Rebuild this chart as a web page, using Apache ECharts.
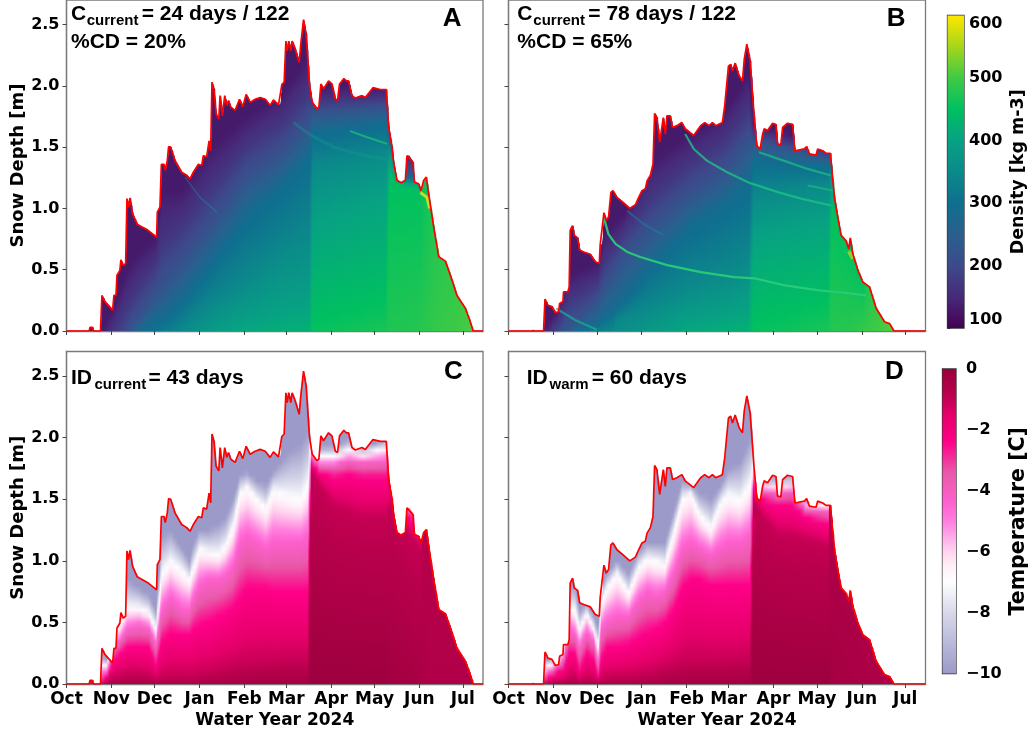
<!DOCTYPE html>
<html><head><meta charset="utf-8">
<style>html,body{margin:0;padding:0;background:#fff}#c{width:1030px;height:732px;filter:blur(0.45px)}</style>
<script src="https://cdn.jsdelivr.net/npm/echarts@6/dist/echarts.min.js"></script>
</head><body><div id="c"></div>
<script>
// ---------- tick labels ----------
const monthDays   = [0,31,61,92,123,152,183,213,244,274];
const monthLabels = ['Oct','Nov','Dec','Jan','Feb','Mar','Apr','May','Jun','Jul'];
const depthTicks  = [0,0.5,1,1.5,2,2.5];
const densTicks   = [100,200,300,400,500,600];
const tempTicks   = [-10,-8,-6,-4,-2,0];

// ---------- snow depth, current climate (panels A, C) ----------
const depthDaysCur = [0,15.7,16.2,18,18.5,23.5,24.5,26.5,31.9,32.8,34.2,34.9,36.9,37.6,39.2,40.9,41.8,42.9,43.9,45.7,48.9,51.9,55.9,62.3,62.8,64.6,65.6,67.4,68.3,69.7,70.6,72,75,79.6,83.1,85.4,87.7,91.2,93.5,94.6,96.9,98.6,99.7,100.6,102,103.4,105.3,106.2,107.8,109.4,110.8,112,113.6,116.6,119.6,121.9,124.2,127,130.4,133.9,137.4,140.8,143.1,146.6,147.7,148.9,150.5,151.7,152.6,153.7,155.1,156,158.1,160.9,162,163.9,165.7,168,169.9,173.1,174.5,175.9,177.7,181.2,183.5,185.9,187.4,188.8,191.8,193.4,195,197.4,199.7,204.3,206.6,211.9,217,221.1,222.8,225.1,226.2,228.5,231.3,234.3,235.4,236.6,239.6,240.5,243.5,245.1,247,248.8,250.4,253.9,257.4,262,266.6,270,275.8,278.8,281.2,288];
const depthCur     = [0,0,0.03,0.03,0,0,0.29,0.24,0.17,0.29,0.29,0.455,0.495,0.58,0.535,0.55,1.08,1.01,1.085,0.955,0.87,0.85,0.825,0.765,0.97,1.01,1.36,1.36,1.31,1.39,1.505,1.5,1.39,1.295,1.27,1.24,1.295,1.36,1.35,1.43,1.42,1.55,1.47,2.03,1.97,1.77,1.73,1.92,1.755,1.92,1.84,1.88,1.825,1.8,1.89,1.83,1.93,1.865,1.89,1.905,1.89,1.84,1.885,1.845,1.85,2.01,2.03,2.365,2.285,2.365,2.285,2.365,2.3,2.19,2.34,2.54,2.42,2.01,1.865,1.815,1.825,2.015,1.975,2.04,2.015,1.89,1.88,2.015,2.06,2.04,2.04,1.92,1.9,1.92,1.905,1.985,1.97,1.97,1.66,1.5,1.375,1.23,1.21,1.23,1.43,1.43,1.375,1.215,1.2,1.145,1.23,1.255,1.12,0.85,0.605,0.57,0.415,0.29,0.185,0.09,0,0];

// ---------- snow depth, warm climate (panels B, D) ----------
const depthDaysWarm = [0,16.3,16.8,17.3,24.2,25.2,27.2,30,32.3,34.6,35.3,37.6,38,41,41.9,42.6,44.2,45.4,47.7,49.1,51.9,56.5,59.9,62.7,63.3,64.5,65.9,67.5,69.1,70.7,72.1,74.9,79.5,83.7,87.6,89.9,92.2,94.5,95.7,98,99.8,100.9,102.5,104.4,106.9,108.3,109.4,111.7,113.3,116.3,119.7,122,127.9,132.7,135.5,138.5,140.8,143.1,147.7,149.3,151.9,153.4,154.7,156.5,159.3,161.6,162.8,164.6,166.9,169.7,171.5,173.8,175.5,176.6,178.9,182.4,184.7,185.8,188.1,189.3,192.7,196.2,197.8,204.3,205.9,207.8,212.4,213.5,217,219.3,222.3,225.1,227.4,229.7,233.2,235,236,237.8,241.3,244.7,249.3,253.9,259.7,263.2,266.2,288];
const depthWarm     = [0,0,0.013,0,0,0.26,0.21,0.2,0.15,0.157,0.225,0.24,0.32,0.32,0.36,0.82,0.86,0.78,0.76,0.66,0.645,0.626,0.565,0.55,0.7,0.71,0.965,0.9,0.93,1.13,1.145,1.09,1.045,1,1.03,1.09,1.145,1.16,1.225,1.27,1.36,1.775,1.74,1.54,1.74,1.605,1.755,1.755,1.66,1.675,1.7,1.65,1.595,1.675,1.7,1.675,1.7,1.675,1.7,1.835,2.16,2.175,2.12,2.185,2.08,2.04,2.215,2.34,2.2,1.74,1.51,1.485,1.605,1.65,1.635,1.695,1.685,1.525,1.52,1.66,1.695,1.685,1.47,1.485,1.505,1.445,1.435,1.485,1.47,1.45,1.45,1.09,0.93,0.78,0.735,0.67,0.76,0.63,0.495,0.4,0.36,0.185,0.076,0.06,0,0];

// ---------- panel A: heights [m] of density contours at read-off days ----------
const densA_days = [24,33,42,50,62,66,80,100,125,150,168,170,221,223,232,245,255,282];
const densA_base = [130,170,205,280,310,320,350,385,410,420,425,455,470,475,475,480,490,505];
const densA_450  = [0,0,0,0,0,0,0,0,0,0,0,0.06,0.25,1.2,1.18,1.15,3,3];
const densA_400  = [0,0,0,0,0,0,0,0,0.05,0.15,0.2,0.85,1.1,1.4,1.21,1.2,3,3];
const densA_350  = [0,0,0,0,0,0,0,0.2,0.4,0.65,0.75,1.34,1.45,1.5,1.23,1.21,3,3];
const densA_290  = [0,0,0,0,0.08,0.1,0.25,0.55,0.95,1.2,1.44,1.62,1.7,1.55,1.25,1.25,3,3];
const densA_220  = [0,0,0,0.1,0.3,0.35,0.55,0.85,1.25,1.45,1.7,1.78,1.82,1.6,1.3,1.3,3,3];
const densA_170  = [0,0,0.2,0.35,0.55,0.7,0.85,1.15,1.5,1.7,1.95,1.87,1.9,1.7,1.38,1.4,3,3];
const densA_130  = [0,0.2,0.5,0.65,0.75,1.15,1.15,1.5,1.75,1.95,2.25,2,1.98,1.8,1.43,1.45,3,3];

// ---------- panel B ----------
const densB_days = [24,33,42,50,62,66,80,100,125,150,166,169,221,223,235,245,266];
const densB_base = [130,190,240,300,330,340,360,385,410,420,425,452,470,480,480,490,510];
const densB_450  = [0,0,0,0,0,0,0,0,0,0,0,0.05,0.25,1,0.7,0.4,3];
const densB_400  = [0,0,0,0,0,0,0,0,0.05,0.12,0.18,0.75,0.9,1.15,0.75,0.45,3];
const densB_350  = [0,0,0,0,0,0,0.1,0.2,0.35,0.45,0.55,1.1,1.2,1.3,0.8,0.5,3];
const densB_290  = [0,0,0,0,0.05,0.1,0.25,0.55,0.85,1.05,1.2,1.4,1.35,1.4,0.85,0.55,3];
const densB_220  = [0,0,0.05,0.1,0.25,0.35,0.6,0.85,1.1,1.3,1.55,1.55,1.42,1.45,0.9,0.6,3];
const densB_170  = [0,0.05,0.25,0.3,0.4,0.55,0.8,1.1,1.35,1.55,1.8,1.62,1.46,1.5,0.95,0.65,3];
const densB_130  = [0,0.15,0.45,0.5,0.55,0.8,0.95,1.4,1.6,1.8,2.1,1.7,1.5,1.55,1,0.7,3];

// ---------- panel C: heights [m] of isotherms at read-off days ----------
const tempC_days = [24,28,33,37,42,50,57,62,66,72,80,85,88,92,98,105,110,115,120,125,132,138,143,148,155,162,167,169,175,185,195,205,221,223,235,245,250,282];
const tempC_base = [-1,-0.8,-0.5,-0.5,-0.5,-0.5,-0.5,-0.5,-0.5,-0.5,-0.5,-0.6,-0.5,-0.5,-0.5,-0.5,-0.4,-0.4,-0.4,-0.4,-0.4,-0.3,-0.3,-0.3,-0.3,-0.3,-0.3,-0.1,-0.1,-0.1,-0.1,-0.1,-0.1,-0.2,-0.3,-0.4,-0.6,-0.6];
const tempC_m1   = [0,0.03,0.05,0.05,0.08,0.08,0.06,0.03,0.05,0.06,0.06,0.06,0.06,0.07,0.08,0.1,0.12,0.13,0.15,0.15,0.16,0.17,0.17,0.18,0.18,0.18,0.18,1.75,1.62,1.45,1.4,1.35,1.35,1.45,1.25,1.1,3,3];
const tempC_m24  = [0.02,0.06,0.2,0.25,0.3,0.3,0.3,0.15,0.35,0.42,0.4,0.4,0.45,0.48,0.5,0.55,0.58,0.62,0.7,0.78,0.78,0.78,0.75,0.75,0.75,0.75,0.75,1.8,1.72,1.68,1.7,1.68,1.68,1.7,1.38,1.25,3,3];
const tempC_m43  = [0.08,0.1,0.3,0.35,0.45,0.48,0.45,0.32,0.6,0.7,0.6,0.6,0.7,0.8,0.85,0.85,0.88,0.95,1.15,1.2,1.15,1.1,1.15,1.15,1.15,1.15,1.2,1.85,1.78,1.78,1.82,1.8,1.82,2,1.42,1.4,3,3];
const tempC_m7   = [0.16,0.16,0.42,0.48,0.62,0.62,0.58,0.45,0.9,1,0.92,0.85,0.95,1.1,1.07,1.05,1.12,1.27,1.55,1.6,1.5,1.43,1.58,1.55,1.52,1.5,1.62,2,1.85,1.85,1.9,1.87,1.92,3,1.5,1.5,3,3];
const tempC_m10  = [0.22,0.2,0.5,0.52,0.85,0.78,0.72,0.6,1.2,1.25,1.1,1,1.15,1.25,1.25,1.3,1.35,1.5,1.7,1.72,1.65,1.62,1.72,1.8,1.9,1.95,2.05,2.1,1.92,1.93,1.98,1.92,1.98,3,1.6,1.6,3,3];

// ---------- panel D ----------
const tempD_days = [24,28,34,38,42,46,49,54,59,62,64,68,75,83,90,96,102,108,114,120,126,132,140,146,152,160,167,169,176,186,196,205,221,223,266];
const tempD_base = [-1,-0.8,-0.5,-0.5,-0.5,-0.5,-0.5,-0.5,-0.5,-0.5,-0.5,-0.5,-0.5,-0.5,-0.5,-0.5,-0.5,-0.4,-0.4,-0.4,-0.4,-0.3,-0.3,-0.3,-0.3,-0.3,-0.3,-0.1,-0.1,-0.1,-0.1,-0.1,-0.1,-0.3,-0.6];
const tempD_m1   = [0,0,0.02,0.02,0.04,0.05,0.02,0.05,0.03,0.01,0.04,0.05,0.06,0.06,0.07,0.08,0.1,0.12,0.14,0.16,0.17,0.17,0.17,0.17,0.18,0.18,0.18,1.5,1.36,1.22,1.2,1.18,1.12,3,3];
const tempD_m24  = [0.02,0.05,0.1,0.12,0.25,0.25,0.1,0.25,0.2,0.05,0.2,0.3,0.3,0.33,0.38,0.42,0.45,0.5,0.6,0.78,0.85,0.85,0.8,0.8,0.8,0.8,0.8,1.6,1.5,1.45,1.45,1.36,1.3,3,3];
const tempD_m43  = [0.06,0.1,0.15,0.2,0.45,0.4,0.3,0.42,0.35,0.15,0.45,0.5,0.55,0.55,0.68,0.75,0.72,0.75,0.9,1.1,1.15,1.1,1.05,1.1,1.15,1.15,1.2,1.68,1.58,1.55,1.58,1.43,1.41,3,3];
const tempD_m7   = [0.12,0.15,0.2,0.28,0.62,0.6,0.45,0.58,0.45,0.3,0.65,0.78,0.9,0.74,0.95,1.02,1,0.97,1.22,1.5,1.55,1.38,1.27,1.46,1.54,1.49,1.62,1.8,1.62,1.62,1.62,1.48,1.45,3,3];
const tempD_m10  = [0.2,0.2,0.25,0.32,0.8,0.8,0.6,0.65,0.55,0.45,0.8,0.9,1,0.9,1.08,1.15,1.15,1.15,1.4,1.65,1.62,1.55,1.5,1.6,1.75,1.8,2,2,1.66,1.67,1.68,1.5,1.47,3,3];

// ---------- dense layers visible as thin bands ----------
const layerA1_days=[82,92.3,104],        layerA1=[1.255,1.09,0.97];
const layerA2_days=[196,208,221.6],      layerA2=[1.63,1.58,1.526];
const layerA3_days=[157,168.5,184.7,203,221.6], layerA3=[1.7,1.6,1.5,1.44,1.4];
const layerA4_days=[244.7,249.3,251],    layerA4=[1.13,1.09,1];
const layerB1_days=[65.8,69,73.9,82,91,109.6,132.7,155.8,169.7,190,213,224.5,236,247];
const layerB1=[0.93,0.79,0.71,0.645,0.604,0.537,0.48,0.44,0.43,0.374,0.333,0.32,0.306,0.29];
const layerB2_days=[122,128,137,151,167,186,202,222.8], layerB2=[1.607,1.485,1.39,1.295,1.206,1.133,1.08,1.024];
const layerB3_days=[173,190,206.6,222.6], layerB3=[1.458,1.39,1.322,1.268];
const layerB4_days=[206.6,224],          layerB4=[1.187,1.146];
const layerB5_days=[33,46,61],           layerB5=[0.184,0.09,0.01];
const layerB6_days=[82,93,107],          layerB6=[0.98,0.875,0.78];
const layerB7_days=[235,238],            layerB7=[0.65,0.59];

// ---------- colour maps ----------
const densColors=[[100,'#440154'],[150,'#472a7a'],[200,'#3c4a8b'],[250,'#2a5f8e'],[300,'#0f6f8f'],[350,'#0b8a8a'],[400,'#07a283'],[450,'#00c060'],[500,'#3fca45'],[550,'#a5d61a'],[600,'#fde800']];
const tempColors=[[-10,'#9c9ac8'],[-8,'#d8d8ea'],[-7,'#fdfdff'],[-6.5,'#fff0f8'],[-6,'#ffd4ef'],[-5,'#ff7fdf'],[-4.4,'#ff60d0'],[-3.4,'#e85aa8'],[-2.4,'#ff0088'],[-1.5,'#e6006a'],[-0.8,'#b8004c'],[0,'#9a003c']];

const hex=c=>[1,3,5].map(i=>parseInt(c.substr(i,2),16));
function cmap(tbl,v){
  if(v<=tbl[0][0])return tbl[0][1];
  for(let i=1;i<tbl.length;i++){ if(v<=tbl[i][0]){
    const t=(v-tbl[i-1][0])/(tbl[i][0]-tbl[i-1][0]),a=hex(tbl[i-1][1]),b=hex(tbl[i][1]);
    return 'rgb('+a.map((x,k)=>Math.round(x+(b[k]-x)*t)).join(',')+')';}}
  return tbl[tbl.length-1][1];
}
// contour table -> value at height; only used to colour the fill below the snow line
function makeField(days,base,levels){
  return function(day){
    let i=0; while(i<days.length-2&&day>days[i+1])i++;
    const t=Math.max(0,Math.min(1,(day-days[i])/(days[i+1]-days[i])));
    const mix=a=>a[i]+(a[i+1]-a[i])*t;
    const pts=[[0,mix(base)]];
    levels.forEach(l=>{const h=mix(l[1]),p=pts[pts.length-1]; if(h>p[0]&&l[0]<p[1])pts.push([h,l[0]]);});
    return h=>{
      for(let k=1;k<pts.length;k++) if(h<=pts[k][0]){
        return pts[k-1][1]+(pts[k][1]-pts[k-1][1])*(h-pts[k-1][0])/(pts[k][0]-pts[k-1][0]);}
      return pts[pts.length-1][1];
    };
  };
}
const fieldA=makeField(densA_days,densA_base,[[450,densA_450],[400,densA_400],[350,densA_350],[290,densA_290],[220,densA_220],[170,densA_170],[130,densA_130]]);
const fieldB=makeField(densB_days,densB_base,[[450,densB_450],[400,densB_400],[350,densB_350],[290,densB_290],[220,densB_220],[170,densB_170],[130,densB_130]]);
const fieldC=makeField(tempC_days,tempC_base,[[-1,tempC_m1],[-2.4,tempC_m24],[-4.3,tempC_m43],[-7,tempC_m7],[-10,tempC_m10]]);
const fieldD=makeField(tempD_days,tempD_base,[[-1,tempD_m1],[-2.4,tempD_m24],[-4.3,tempD_m43],[-7,tempD_m7],[-10,tempD_m10]]);

const YMAX=2.7, XMAX=288;
const FONT='"DejaVu Sans"', HELV='"Liberation Sans"';
const zip=(a,b)=>a.map((x,i)=>[x,b[i]]);
const grids=[
 {left:66.5,top:-1,width:416.5,height:332},
 {left:508.5,top:-1,width:417,height:332},
 {left:66.5,top:351.5,width:416.5,height:332.5},
 {left:508.5,top:351.5,width:417,height:332.5},
 {left:947.5,top:15.5,width:16.5,height:312.5},
 {left:942.5,top:369,width:15,height:304.5}
].map(g=>Object.assign({show:true,borderColor:'#7a7a7a',borderWidth:1.3,backgroundColor:'transparent'},g));
grids[4].borderColor=grids[5].borderColor='#333';

const xAxes=[0,1,2,3].map(i=>({
  type:'value',gridIndex:i,min:0,max:XMAX,
  axisLine:{show:true,onZero:false,lineStyle:{color:'#7a7a7a',width:1.3}},
  axisTick:{show:true,length:4,customValues:monthDays,lineStyle:{color:'#444',width:1}},
  axisLabel:{show:i>1,customValues:monthDays,margin:7,color:'#000',fontFamily:FONT,fontWeight:'bold',fontSize:17,
    formatter:v=>monthLabels[monthDays.indexOf(v)]},
  splitLine:{show:false},
  name:i>1?'Water Year 2024':'',nameLocation:'middle',nameGap:28,
  nameTextStyle:{color:'#000',fontFamily:FONT,fontWeight:'bold',fontSize:17}
}));
xAxes.push({type:'value',gridIndex:4,min:0,max:1,show:false},{type:'value',gridIndex:5,min:0,max:1,show:false});
const yAxes=[0,1,2,3].map(i=>({
  type:'value',gridIndex:i,min:0,max:YMAX,
  axisLine:{show:true,onZero:false,lineStyle:{color:'#7a7a7a',width:1.3}},
  axisTick:{show:true,length:4,customValues:depthTicks,lineStyle:{color:'#444',width:1}},
  axisLabel:{show:i%2==0,customValues:depthTicks,margin:7,color:'#000',fontFamily:FONT,fontWeight:'bold',fontSize:16,formatter:v=>v.toFixed(1)},
  splitLine:{show:false},
  name:i%2==0?'Snow Depth [m]':'',nameLocation:'middle',nameRotate:90,nameGap:38,
  nameTextStyle:{color:'#000',fontFamily:FONT,fontWeight:'bold',fontSize:18}
}));
yAxes.push({
  type:'value',gridIndex:4,min:100,max:600,position:'right',
  axisLine:{show:true,lineStyle:{color:'#333'}},
  axisTick:{show:true,length:3,customValues:densTicks,lineStyle:{color:'#333'}},
  axisLabel:{customValues:densTicks,margin:5,color:'#000',fontFamily:FONT,fontWeight:'bold',fontSize:16,
    verticalAlignMinLabel:'bottom',verticalAlignMaxLabel:'top'},
  splitLine:{show:false},name:'Density [kg m-3]',nameLocation:'middle',nameRotate:90,nameGap:45,
  nameTextStyle:{color:'#000',fontFamily:FONT,fontWeight:'bold',fontSize:17.5}
},{
  type:'value',gridIndex:5,min:-10,max:0,position:'right',
  axisLine:{show:true,lineStyle:{color:'#333'}},
  axisTick:{show:true,length:4,customValues:tempTicks,lineStyle:{color:'#333'}},
  axisLabel:{customValues:tempTicks,margin:10,color:'#000',fontFamily:FONT,fontWeight:'bold',fontSize:16,
    formatter:v=>String(v).replace('-','\u2212')},
  splitLine:{show:false},name:'Temperature [C]',nameLocation:'middle',nameRotate:90,nameGap:52,
  nameTextStyle:{color:'#000',fontFamily:FONT,fontWeight:'bold',fontSize:20.5}
});

function fieldSeries(idx,days,vals,field,tbl){
  const rows=days.slice(0,-1).map((d,i)=>[d,vals[i],days[i+1],vals[i+1]]).filter(r=>r[1]>0||r[3]>0);
  return {type:'custom',xAxisIndex:idx,yAxisIndex:idx,coordinateSystem:'cartesian2d',silent:true,z:2,
    encode:{x:[0,2],y:[1,3]},data:rows,
    renderItem(p,api){
      const d0=api.value(0),v0=api.value(1),d1=api.value(2),v1=api.value(3);
      const n=Math.max(1,Math.ceil(d1-d0)),children=[];
      const y0=api.coord([0,0])[1],yT=api.coord([0,YMAX])[1];
      for(let k=0;k<n;k++){
        const a=d0+(d1-d0)*k/n,b=d0+(d1-d0)*(k+1)/n;
        const va=v0+(v1-v0)*k/n,vb=v0+(v1-v0)*(k+1)/n;
        const f=field((a+b)/2),stops=[];
        for(let s=0;s<=54;s++) stops.push({offset:s/54,color:cmap(tbl,f(YMAX*s/54))});
        const A=api.coord([a,0]),B=api.coord([b,0]),C=api.coord([b,vb]),D=api.coord([a,va]);
        children.push({type:'polygon',shape:{points:[[A[0],A[1]],[B[0]+1.2,B[1]],[C[0]+1.2,C[1]],[D[0],D[1]]]},
          style:{fill:{type:'linear',x:0,y:y0,x2:0,y2:yT,global:true,colorStops:stops},lineWidth:0}});
      }
      return {type:'group',children};
    }};
}
function lineSeries(idx,days,vals,color,width,opacity,z){
  return {type:'line',xAxisIndex:idx,yAxisIndex:idx,data:zip(days,vals),showSymbol:false,symbol:'none',silent:true,
    z:z||3,lineStyle:{color,width,opacity},itemStyle:{color}};
}
function barSeries(idx,lo,hi,tbl){
  return {type:'custom',xAxisIndex:idx,yAxisIndex:idx,silent:true,z:2,data:[[0,lo,1,hi]],encode:{x:[0,2],y:[1,3]},
    renderItem(p,api){
      const a=api.coord([0,lo]),b=api.coord([1,hi]),stops=[];
      for(let s=0;s<=60;s++)stops.push({offset:s/60,color:cmap(tbl,lo+(hi-lo)*s/60)});
      return {type:'rect',shape:{x:a[0],y:b[1],width:b[0]-a[0],height:a[1]-b[1]},
        style:{fill:{type:'linear',x:0,y:1,x2:0,y2:0,colorStops:stops}}};
    }};
}
const RED='#ff0000';
const series=[
  fieldSeries(0,depthDaysCur,depthCur,fieldA,densColors),
  fieldSeries(1,depthDaysWarm,depthWarm,fieldB,densColors),
  fieldSeries(2,depthDaysCur,depthCur,fieldC,tempColors),
  fieldSeries(3,depthDaysWarm,depthWarm,fieldD,tempColors),
  lineSeries(0,layerA1_days,layerA1,'#1a8a9a',1.5,0.45),
  lineSeries(0,layerA2_days,layerA2,'#1fbf7a',2,0.75),
  lineSeries(0,layerA3_days,layerA3,'#12a08f',3,0.35),
  lineSeries(0,layerA4_days,layerA4,'#d8e020',3,0.9),
  lineSeries(1,layerB1_days,layerB1,'#2bcb78',2.2,0.95),
  lineSeries(1,layerB2_days,layerB2,'#1fc085',2.2,0.8),
  lineSeries(1,layerB3_days,layerB3,'#1fc085',2.2,0.7),
  lineSeries(1,layerB4_days,layerB4,'#20c080',2,0.6),
  lineSeries(1,layerB5_days,layerB5,'#18b090',2.2,0.7),
  lineSeries(1,layerB6_days,layerB6,'#1a8a9a',2,0.45),
  lineSeries(1,layerB7_days,layerB7,'#a8d820',4,0.8),
  lineSeries(0,depthDaysCur,depthCur,RED,1.7,1,5),
  lineSeries(1,depthDaysWarm,depthWarm,RED,1.7,1,5),
  lineSeries(2,depthDaysCur,depthCur,RED,1.7,1,5),
  lineSeries(3,depthDaysWarm,depthWarm,RED,1.7,1,5),
  barSeries(4,100,600,densColors),
  barSeries(5,-10,0,tempColors)
];

const txt=(x,base,text,size,family)=>({type:'text',x,y:base-0.36*size,z:20,silent:true,
  style:{text,fill:'#000',font:'bold '+size+'px '+(family||HELV),verticalAlign:'middle',align:'left'}});
const graphic=[
  txt(71,22,'C',21),txt(86.7,26.5,'current',15),txt(141.7,22,'= 24 days / 122',21),txt(71,49.3,'%CD = 20%',21),
  txt(517.3,22,'C',21),txt(533.3,26.5,'current',15),txt(588.3,22,'= 78 days / 122',21),txt(517.3,49.3,'%CD = 65%',21),
  txt(71,386,'ID',21),txt(94.5,390.5,'current',15),txt(148.5,386,'= 43 days',21),
  txt(526.7,386,'ID',21),txt(549.5,390.5,'warm',15),txt(591.7,386,'= 60 days',21),
  txt(442.7,28.3,'A',26),txt(886.7,28.3,'B',26),txt(444,381,'C',26),txt(885,381,'D',26)
];

const chart=echarts.init(document.getElementById('c'),null,{renderer:'canvas'});
chart.setOption({animation:false,backgroundColor:'#fff',grid:grids,xAxis:xAxes,yAxis:yAxes,series,graphic:{elements:graphic}});
</script></body></html>
